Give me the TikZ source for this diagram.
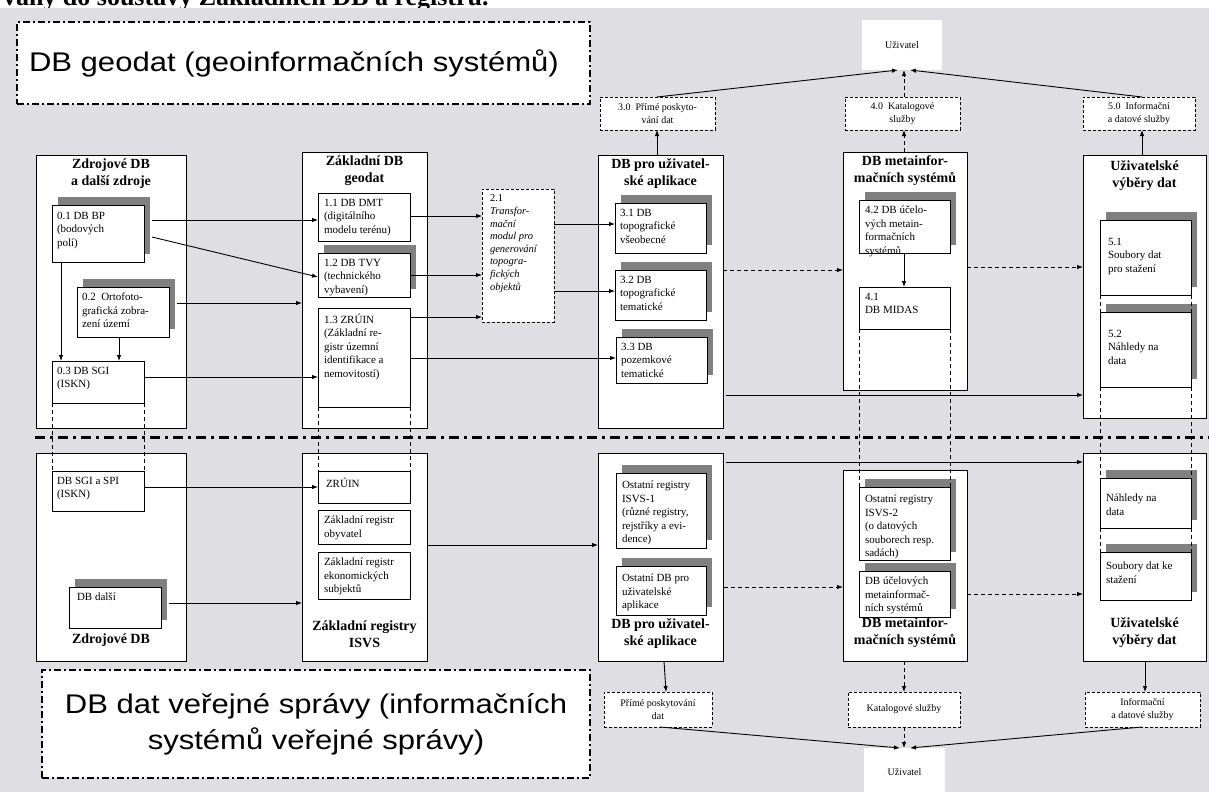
\documentclass[tikz,border=0pt]{standalone}
\usepackage{fontspec}
\setmainfont{Liberation Serif}
\newfontfamily\bigsans[FakeStretch=1.15]{Liberation Sans}
\usetikzlibrary{arrows.meta,calc,fit,shadows}
\definecolor{bgc}{RGB}{222,222,227}
\definecolor{shc}{RGB}{128,128,128}
\newcommand\tx[3]{\node[txt, anchor=north west] (#1t) at ($(#1.north west)+(#2)$) {#3};}
\begin{document}
\begin{tikzpicture}[x=1pt,y=-1pt,
  every node/.style={inner sep=0pt, outer sep=0pt},
  big/.style={draw=black, line width=1pt, fill=white},
  sub/.style={draw=black, line width=0.9pt, fill=white},
  shd/.style={general shadow={fill=shc, shadow xshift=6pt, shadow yshift=8pt}},
  dbox/.style={draw=black, line width=0.9pt, fill=white, dash pattern=on 3pt off 2pt},
  ubox/.style={fill=white},
  ddbox/.style={draw=black, line width=1.5pt, fill=white, dash pattern=on 7pt off 3pt on 2pt off 3pt},
  txt/.style={font=\fontsize{11}{13.5}\selectfont, align=left},
  stxt/.style={font=\fontsize{10}{12.5}\selectfont, align=center},
  ttl/.style={font=\bfseries\fontsize{14}{17}\selectfont, align=center},
  arr/.style={line width=0.9pt, -{Latex[length=6pt,width=4.5pt]}},
  darr/.style={arr, dash pattern=on 4pt off 3pt},
  dln/.style={line width=0.8pt, dash pattern=on 4pt off 3pt},
  sep/.style={line width=3pt, dash pattern=on 10pt off 5pt on 3pt off 5pt},
]
\useasboundingbox (0,0) rectangle (1209,792);
\fill[white] (0,0) rectangle (1209,8);
\fill[bgc] (0,8) rectangle (1209,792);
\begin{scope}
\clip (0,0) rectangle (1209,8);
\node[anchor=base west, font=\bfseries\fontsize{26}{26}\selectfont] (toptext) at (3,6) {vány do soustavy Základních DB a registrů.};
\end{scope}

% big labels
\node[ddbox, fit={(17,22) (590,104)}] (geo) {};
\node[anchor=west, font=\bigsans\fontsize{27}{32}\selectfont] (geot) at ($(geo.west)+(12,0)$) {DB geodat (geoinformačních systémů)};
\node[ddbox, fit={(42,670) (590,778)}] (ver) {};
\node[align=center, font=\bigsans\fontsize{27}{36}\selectfont] (vert) at (ver.center) {DB dat veřejné správy (informačních\\systémů veřejné správy)};

% separator
\coordinate (sepL) at (35,437);
\coordinate (sepR) at (1209,437);
\draw[sep] (sepL) -- (sepR);

% ---------- upper section ----------
\node[big, fit={(36,155) (186,428)}] (C1) {};
\node[ttl, anchor=north] (C1t) at ($(C1.north)+(0,4)$) {Zdrojové DB\\a další zdroje};
\node[sub, shd, fit={(52,205) (144,262)}] (b01) {};
\tx{b01}{5,7}{0.1 DB BP\\(bodových\\polí)}
\node[sub, shd, fit={(77,287) (169,337)}] (b02) {};
\tx{b02}{5,6}{0.2~ Ortofoto-\\grafická zobra-\\zení území}
\node[sub, fit={(52,361) (144,403)}] (b03) {};
\tx{b03}{5,6}{0.3 DB SGI\\(ISKN)}

\node[big, fit={(302,152) (427,428)}] (C2) {};
\node[ttl, anchor=north] (C2t) at ($(C2.north)+(0,4)$) {Základní DB\\geodat};
\node[sub, fit={(318,193) (410,241)}] (b11) {};
\tx{b11}{6,6}{1.1 DB DMT\\(digitálního\\modelu terénu)}
\node[sub, shd, fit={(318,253) (410,297)}] (b12) {};
\tx{b12}{6,6}{1.2 DB TVY\\(technického\\vybavení)}
\node[sub, fit={(318,308) (410,407)}] (b13) {};
\tx{b13}{6,6}{1.3 ZRÚIN\\(Základní re-\\gistr územní\\identifikace a\\nemovitostí)}

\node[dbox, fit={(482,189) (554,322)}] (b21) {};
\node[txt, anchor=north west, font=\fontsize{10.5}{12.6}\selectfont] (b21t) at ($(b21.north west)+(8,6)$) {2.1\\\textit{Transfor-}\\\textit{mační}\\\textit{modul pro}\\\textit{generování}\\\textit{topogra-}\\\textit{fických}\\\textit{objektů}};

\node[big, fit={(598,155) (723,428)}] (C3) {};
\node[ttl, anchor=north] (C3t) at ($(C3.north)+(0,4)$) {DB pro uživatel-\\ské aplikace};
\node[sub, shd, fit={(615,203) (706,253)}] (b31) {};
\tx{b31}{5,6}{3.1 DB\\topografické\\všeobecné}
\node[sub, shd, fit={(615,270) (706,320)}] (b32) {};
\tx{b32}{5,6}{3.2 DB\\topografické\\tematické}
\node[sub, shd, fit={(616,337) (707,383)}] (b33) {};
\tx{b33}{5,6}{3.3 DB\\pozemkové\\tematické}

\node[big, fit={(843,152) (967,390)}] (C4) {};
\node[ttl, anchor=north] (C4t) at ($(C4.north)+(0,4)$) {DB metainfor-\\mačních systémů};
\node[sub, shd, fit={(859,200) (950,253)}] (b42) {};
\tx{b42}{6,6}{4.2 DB účelo-\\vých metain-\\formačních\\systémů}
\node[sub, fit={(859,287) (950,329)}] (b41) {};
\tx{b41}{6,6}{4.1\\DB MIDAS}

\node[big, fit={(1083,155) (1206,418)}] (C5) {};
\node[ttl, anchor=north] (C5t) at ($(C5.north)+(0,6)$) {Uživatelské\\výběry dat};
\node[sub, shd, fit={(1100,220) (1191,295)}] (b51) {};
\tx{b51}{8,18}{5.1\\Soubory dat\\pro stažení}
\node[sub, shd, fit={(1100,312) (1191,387)}] (b52) {};
\tx{b52}{8,18}{5.2\\Náhledy na\\data}

% top service boxes
\node[dbox, fit={(600,97) (715,130)}] (t30) {};
\node[stxt] (t30t) at (t30.center) {3.0~ Přímé poskyto-\\vání dat};
\node[dbox, fit={(845,97) (960,130)}] (t40) {};
\node[stxt] (t40t) at (t40.center) {4.0~ Katalogové\\služby};
\node[dbox, fit={(1083,97) (1195,130)}] (t50) {};
\node[stxt] (t50t) at (t50.center) {5.0~ Informační\\a datové služby};
\node[ubox, fit={(862,20) (942,70)}] (u1) {};
\node[stxt] (u1t) at (u1.center) {Uživatel};

% ---------- lower section ----------
\node[big, fit={(36,453) (186,661)}] (L1) {};
\node[ttl, anchor=south] (L1t) at ($(L1.south)+(0,-15)$) {Zdrojové DB};
\node[sub, fit={(52,471) (144,511)}] (l01) {};
\tx{l01}{5,6}{DB SGI a SPI\\(ISKN)}
\node[sub, shd, fit={(69,587) (161,628)}] (l02) {};
\tx{l02}{8,6}{DB další}

\node[big, fit={(302,453) (427,661)}] (L2) {};
\node[ttl, anchor=south] (L2t) at ($(L2.south)+(0,-13)$) {Základní registry\\ISVS};
\node[sub, fit={(318,471) (410,503)}] (l11) {};
\tx{l11}{8,7}{ZRÚIN}
\node[sub, fit={(318,510) (410,544)}] (l12) {};
\tx{l12}{6,6}{Základní registr\\obyvatel}
\node[sub, fit={(318,552) (410,599)}] (l13) {};
\tx{l13}{6,6}{Základní registr\\ekonomických\\subjektů}

\node[big, fit={(598,453) (723,661)}] (L3) {};
\node[ttl, anchor=south] (L3t) at ($(L3.south)+(0,-13)$) {DB pro uživatel-\\ské aplikace};
\node[sub, shd, fit={(616,473) (706,548)}] (l31) {};
\tx{l31}{6,8}{Ostatní registry\\ISVS-1\\(různé registry,\\rejstříky a evi-\\dence)}
\node[sub, shd, fit={(616,566) (706,615)}] (l32) {};
\tx{l32}{6,8}{Ostatní DB pro\\uživatelské\\aplikace}

\node[big, fit={(843,470) (967,661)}] (L4) {};
\node[ttl, anchor=south] (L4t) at ($(L4.south)+(0,-13)$) {DB metainfor-\\mačních systémů};
\node[sub, shd, fit={(859,487) (950,560)}] (l41) {};
\tx{l41}{6,8}{Ostatní registry\\ISVS-2\\(o datových\\souborech resp.\\sadách)}
\node[sub, shd, fit={(859,571) (950,617)}] (l42) {};
\tx{l42}{6,6}{DB účelových\\metainformač-\\ních systémů}

\node[big, fit={(1083,453) (1206,661)}] (L5) {};
\node[ttl, anchor=south] (L5t) at ($(L5.south)+(0,-13)$) {Uživatelské\\výběry dat};
\node[sub, shd, fit={(1100,478) (1191,528)}] (l51) {};
\tx{l51}{6,16}{Náhledy na\\data}
\node[sub, shd, fit={(1100,552) (1191,600)}] (l52) {};
\tx{l52}{6,10}{Soubory dat ke\\stažení}

% bottom service boxes
\node[dbox, fit={(604,692) (712,727)}] (d30) {};
\node[stxt] (d30t) at (d30.center) {Přímé poskytování\\dat};
\node[dbox, fit={(848,692) (960,727)}] (d40) {};
\node[stxt] (d40t) at (d40.center) {Katalogové služby};
\node[dbox, fit={(1085,692) (1200,727)}] (d50) {};
\node[stxt] (d50t) at (d50.center) {Informační\\a datové služby};
\node[ubox, fit={(864,748) (945,792)}] (u2) {};
\node[stxt] (u2t) at ($(u2.center)+(0,2)$) {Uživatel};

% ---------- connectors upper ----------
\draw[arr] ($(b01.north east)+(8,15)$) -- ($(b11.north west)+(0,27)$);
\draw[arr] ($(b01.north east)+(8,32)$) -- ($(b12.north west)+(0,24)$);
\draw[arr] ($(b02.north east)+(8,16)$) -- ($(C2.north west)+(0,151)$);
\draw[arr] ($(b03.north east)+(0,16)$) -- ($(b13.north west)+(0,69)$);
\draw[arr] ($(b01.south west)+(9,0)$) -- ($(b03.north west)+(9,0)$);
\draw[arr] ($(b02.south west)+(42,0)$) -- ($(b03.north west)+(67,0)$);
\draw[arr] ($(b11.north east)+(0,23)$) -- ($(b21.north west)+(0,27)$);
\draw[arr] ($(b12.north east)+(0,22)$) -- ($(b21.north west)+(0,86)$);
\draw[arr] ($(b13.north east)+(0,9)$) -- ($(b21.north west)+(0,128)$);
\draw[arr] ($(b13.north east)+(0,50)$) -- ($(b33.north west)+(0,21)$);
\draw[arr] ($(b21.north east)+(0,35)$) -- ($(b31.north west)+(0,21)$);
\draw[arr] ($(b21.north east)+(0,102)$) -- ($(b32.north west)+(0,21)$);
\draw[arr] ($(C3.north west)+(59,0)$) -- ($(t30.south west)+(57,0)$);
\draw[darr] ($(C3.north east)+(0,115)$) -- ($(C4.north west)+(0,118)$);
\draw[arr] ($(C3.north east)+(3,240)$) -- ($(C5.north west)+(0,240)$);
\draw[arr] ($(b42.south west)+(45,0)$) -- ($(b41.north west)+(45,0)$);
\draw[darr] ($(C4.north west)+(61,0)$) -- ($(t40.south west)+(59,0)$);
\draw[darr] ($(C4.north east)+(0,115)$) -- ($(C5.north west)+(0,112)$);
\draw[arr] ($(C5.north west)+(59,0)$) -- ($(t50.south west)+(59,0)$);
\draw[arr] ($(t30.north west)+(57,0)$) -- ($(u1.south west)+(36,0)$);
\draw[darr] ($(t40.north west)+(59,0)$) -- ($(u1.south west)+(42,0)$);
\draw[arr] ($(t50.north west)+(59,0)$) -- ($(u1.south west)+(48,0)$);

% dashed continuations
\draw[dln] (b03.south west) -- (l01.north west);
\draw[dln] (b03.south east) -- (l01.north east);
\draw[dln] (b13.south west) -- (l11.north west);
\draw[dln] (b13.south east) -- (l11.north east);
\draw[dln] (b41.south west) -- (l41.north west);
\draw[dln] (b41.south east) -- (l41.north east);
\draw[dln] (b51.south west) -- (b52.north west);
\draw[dln] (b51.south east) -- (b52.north east);
\draw[dln] (b52.south west) -- (l51.north west);
\draw[dln] (b52.south east) -- (l51.north east);
\draw[dln] (l51.south west) -- (l52.north west);
\draw[dln] (l51.south east) -- (l52.north east);

% ---------- connectors lower ----------
\draw[arr] ($(l01.north east)+(0,16)$) -- ($(l11.north west)+(0,16)$);
\draw[arr] ($(l02.north east)+(8,16)$) -- ($(L2.north west)+(0,150)$);
\draw[arr] ($(L2.north east)+(0,92)$) -- ($(L3.north west)+(0,92)$);
\draw[arr] ($(L3.north east)+(3,9)$) -- ($(L5.north west)+(0,9)$);
\draw[darr] ($(L3.north east)+(1,134)$) -- ($(L4.north west)+(0,117)$);
\draw[darr] ($(L4.north east)+(0,124)$) -- ($(L5.north west)+(0,141)$);
\draw[arr] ($(L3.south west)+(66,0)$) -- ($(d30.north west)+(62,0)$);
\draw[darr] ($(L4.south west)+(61,0)$) -- ($(d40.north west)+(56,0)$);
\draw[arr] ($(L5.south west)+(62,0)$) -- ($(d50.north west)+(60,0)$);
\draw[arr] ($(d30.south west)+(56,0)$) -- ($(u2.north west)+(36,0)$);
\draw[darr] ($(d40.south west)+(56,0)$) -- ($(u2.north west)+(40,0)$);
\draw[arr] ($(d50.south west)+(57,0)$) -- ($(u2.north west)+(46,0)$);
\end{tikzpicture}
\end{document}
